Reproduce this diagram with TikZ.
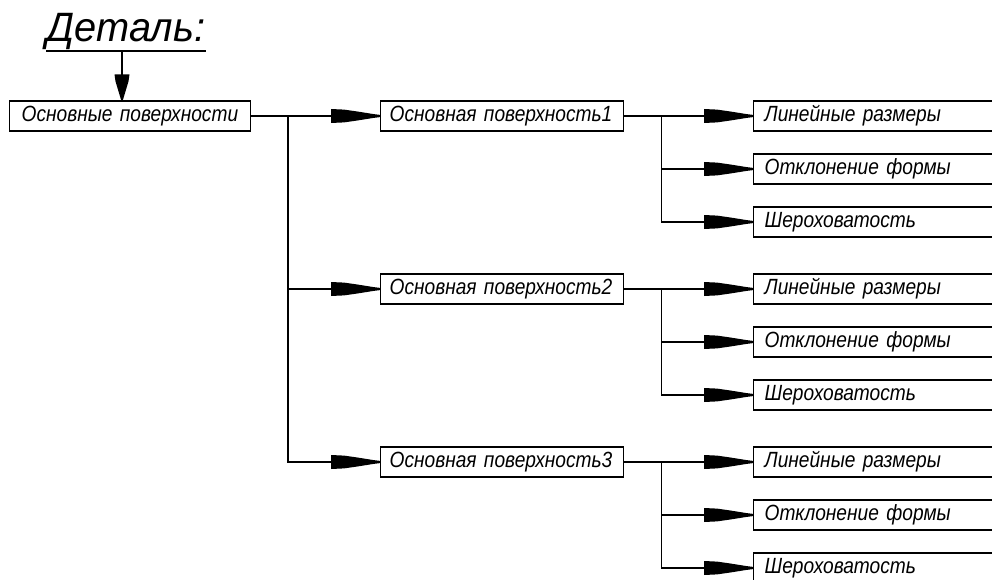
\documentclass[tikz,border=0pt]{standalone}
\usepackage{fontspec}
\setmainfont{Liberation Sans}
\newfontfamily\boxf[FakeStretch=0.87,WordSpace=0.8]{Liberation Sans}
\newfontfamily\titlef[FakeStretch=0.97]{Liberation Sans}
\pgfdeclarearrow{
  name = Dart,
  setup code = {
    \pgfarrowssettipend{0pt}
    \pgfarrowssetlineend{-30pt}
    \pgfarrowssetbackend{-49pt}
    \pgfarrowshullpoint{0pt}{0pt}
    \pgfarrowshullpoint{-49pt}{7pt}
    \pgfarrowshullpoint{-49pt}{-7pt}
  },
  drawing code = {
    \pgfpathmoveto{\pgfpoint{-49pt}{7pt}}
    \pgfpathlineto{\pgfpoint{-36pt}{6.4pt}}
    \pgfpathlineto{\pgfpoint{-22pt}{4.4pt}}
    \pgfpathlineto{\pgfpoint{-7pt}{2pt}}
    \pgfpathlineto{\pgfpoint{0pt}{1.1pt}}
    \pgfpathlineto{\pgfpoint{0pt}{-1.1pt}}
    \pgfpathlineto{\pgfpoint{-7pt}{-2pt}}
    \pgfpathlineto{\pgfpoint{-22pt}{-4.4pt}}
    \pgfpathlineto{\pgfpoint{-36pt}{-6.4pt}}
    \pgfpathlineto{\pgfpoint{-49pt}{-7pt}}
    \pgfpathclose
    \pgfusepathqfill
  }
}
\pgfdeclarearrow{
  name = VDart,
  setup code = {
    \pgfarrowssettipend{0pt}
    \pgfarrowssetlineend{-15pt}
    \pgfarrowssetbackend{-26pt}
    \pgfarrowshullpoint{0pt}{0pt}
    \pgfarrowshullpoint{-26pt}{7.5pt}
    \pgfarrowshullpoint{-26pt}{-7.5pt}
  },
  drawing code = {
    \pgfpathmoveto{\pgfpoint{-26pt}{7.5pt}}
    \pgfpathlineto{\pgfpoint{-19pt}{6.5pt}}
    \pgfpathlineto{\pgfpoint{0pt}{0.8pt}}
    \pgfpathlineto{\pgfpoint{0pt}{-0.8pt}}
    \pgfpathlineto{\pgfpoint{-19pt}{-6.5pt}}
    \pgfpathlineto{\pgfpoint{-26pt}{-7.5pt}}
    \pgfpathclose
    \pgfusepathqfill
  }
}
\begin{document}
\begin{tikzpicture}[x=1pt,y=-1pt, line width=1.3pt,
  boxfont/.style={font=\boxf\itshape\fontsize{22}{26}\selectfont},
  box/.style={boxfont, draw, line width=1.3pt, anchor=west, minimum height=30pt, align=left, inner ysep=0pt},
  box1/.style={box, text width=217pt, inner xsep=12pt},
  box2/.style={box, text width=225pt, inner xsep=9pt},
  box3/.style={box, text width=240pt, inner xsep=11pt},
  conn/.style={-Dart, line width=1.3pt},
  title/.style={font=\titlef\itshape\fontsize{41}{46}\selectfont, anchor=base west, inner sep=0pt}
]
\useasboundingbox (0,0) rectangle (992,580);
\clip (0,0) rectangle (992,580);
\fill[white] (0,0) rectangle (992,580);

\node[title] (t) at (46,42) {Деталь:};
\draw ([yshift=-9pt]t.base west) -- ([yshift=-9pt]t.base east);

\node[box1] (b0) at (9,116) {\mbox{Основные поверхности}};

\coordinate (ta) at (122,51);
\draw[-VDart] (ta) -- (ta |- b0.north);

\foreach \i/\y in {1/116,2/289,3/462} {
  \node[box2] (s\i) at (380,\y) {\mbox{Основная поверхность\i}};
  \node[box3] (p\i a) at (753,\y) {\mbox{Линейные размеры}};
  \node[box3] (p\i b) at (753,\y+53) {\mbox{Отклонение формы}};
  \node[box3] (p\i c) at (753,\y+106) {\mbox{Шероховатость}};
}

\coordinate (bus1) at (288,116);
\draw[conn] (b0.east) -- (s1.west);
\draw[conn] (bus1 |- s2.west) -- (s2.west);
\draw[conn] (bus1) |- (s3.west);

\foreach \i in {1,2,3} {
  \coordinate (bus2\i) at ([xshift=37pt]s\i.east);
  \draw[conn] (s\i.east) -- (p\i a.west);
  \draw[conn] (bus2\i |- p\i b.west) -- (p\i b.west);
  \draw[conn] (bus2\i) |- (p\i c.west);
}
\end{tikzpicture}
\end{document}
